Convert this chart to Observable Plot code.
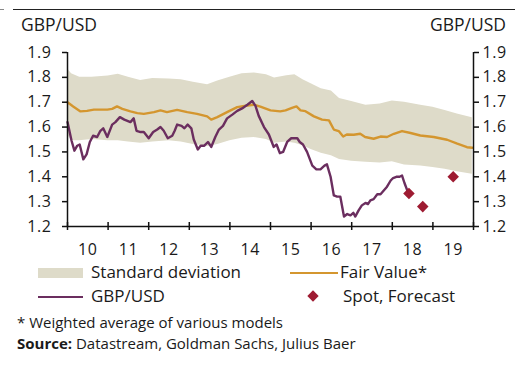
<!DOCTYPE html>
<html>
<head>
<meta charset="utf-8">
<script src="https://cdn.jsdelivr.net/npm/d3@7"></script>
<script src="https://cdn.jsdelivr.net/npm/@observablehq/plot@0.6"></script>
<style>
  body { margin:0; width:530px; height:368px; position:relative; background:#fff; font-family:"Open Sans", sans-serif; color:#1a1a1a; overflow:hidden; }
  .abs { position:absolute; white-space:nowrap; }
</style>
</head>
<body>
<div class="abs" style="left:13px;top:9px;width:502px;height:1px;background:#222"></div>
<div class="abs" style="left:0px;top:9px;width:4px;height:1px;background:#888"></div>
<div class="abs" style="left:21px;top:12px;font-size:17.5px">GBP/USD</div>
<div class="abs" style="right:24px;top:12px;font-size:17.5px">GBP/USD</div>
<div id="chart" class="abs" style="left:0;top:36px"></div>
<div class="abs" style="left:38px;top:268px;width:45px;height:10px;background:#dedbc9"></div>
<div class="abs" style="left:91px;top:260px;font-size:17px">Standard deviation</div>
<div class="abs" style="left:290px;top:272px;width:48px;height:2px;background:#d4962f"></div>
<div class="abs" style="left:340px;top:260px;font-size:17px">Fair Value*</div>
<div class="abs" style="left:38px;top:296px;width:45px;height:2px;background:#6b2e5f"></div>
<div class="abs" style="left:91px;top:284px;font-size:17px">GBP/USD</div>
<div class="abs" style="left:309px;top:292px;width:8px;height:8px;background:#9e1b32;transform:rotate(45deg)"></div>
<div class="abs" style="left:343px;top:284px;font-size:17px">Spot, Forecast</div>
<div class="abs" style="left:17px;top:312px;font-size:15px">* Weighted average of various models</div>
<div class="abs" style="left:17px;top:333px;font-size:15px"><b>Source:</b> Datastream, Goldman Sachs, Julius Baer</div>
<script>
// ---- data ----
const bandYears = [2010.0,2010.1,2010.3,2010.6,2011.0,2011.25,2011.5,2011.8,2012.1,2012.5,2012.8,2013.1,2013.45,2013.7,2014.0,2014.3,2014.6,2014.9,2015.1,2015.4,2015.6,2015.8,2016.0,2016.25,2016.5,2016.7,2017.0,2017.35,2017.7,2018.0,2018.3,2018.7,2019.0,2019.3,2019.6,2019.97];
const bandUpper = [1.835,1.815,1.80,1.80,1.805,1.812,1.80,1.787,1.795,1.793,1.79,1.78,1.77,1.785,1.80,1.815,1.818,1.81,1.797,1.806,1.81,1.79,1.774,1.754,1.745,1.715,1.703,1.688,1.693,1.705,1.70,1.688,1.68,1.667,1.653,1.638];
const bandLower = [1.57,1.545,1.545,1.55,1.545,1.545,1.54,1.535,1.54,1.545,1.54,1.53,1.522,1.53,1.545,1.555,1.558,1.55,1.535,1.54,1.535,1.525,1.51,1.495,1.485,1.47,1.462,1.458,1.455,1.46,1.447,1.443,1.437,1.43,1.42,1.41];

const fairYears = [2010.0,2010.14,2010.32,2010.48,2010.65,2010.98,2011.1,2011.22,2011.35,2011.55,2011.72,2011.88,2012.13,2012.29,2012.45,2012.7,2012.95,2013.19,2013.44,2013.54,2013.69,2013.93,2014.18,2014.43,2014.59,2014.75,2015.0,2015.24,2015.37,2015.53,2015.64,2015.74,2015.86,2016.07,2016.27,2016.44,2016.56,2016.68,2016.79,2016.88,2017.05,2017.21,2017.33,2017.54,2017.71,2017.87,2018.04,2018.24,2018.45,2018.69,2019.02,2019.35,2019.6,2019.84,2019.97];
const fairValue = [1.70,1.683,1.663,1.665,1.67,1.67,1.673,1.683,1.673,1.663,1.656,1.653,1.66,1.667,1.66,1.669,1.66,1.653,1.643,1.63,1.64,1.66,1.68,1.687,1.69,1.682,1.667,1.663,1.667,1.677,1.683,1.667,1.664,1.643,1.63,1.627,1.59,1.584,1.562,1.57,1.569,1.573,1.56,1.553,1.562,1.56,1.573,1.584,1.576,1.566,1.56,1.549,1.533,1.519,1.517];

const gbpYears = [2010.0,2010.1,2010.17,2010.24,2010.3,2010.39,2010.47,2010.55,2010.63,2010.73,2010.81,2010.88,2010.98,2011.1,2011.18,2011.29,2011.4,2011.55,2011.63,2011.7,2011.8,2011.88,2012.0,2012.11,2012.21,2012.29,2012.37,2012.47,2012.58,2012.64,2012.7,2012.81,2012.88,2012.96,2013.05,2013.11,2013.21,2013.28,2013.37,2013.46,2013.54,2013.64,2013.73,2013.83,2013.93,2014.06,2014.18,2014.3,2014.43,2014.55,2014.63,2014.71,2014.84,2014.96,2015.08,2015.15,2015.23,2015.31,2015.41,2015.51,2015.66,2015.72,2015.8,2015.9,2016.03,2016.13,2016.23,2016.33,2016.39,2016.48,2016.56,2016.64,2016.72,2016.81,2016.89,2016.97,2017.04,2017.09,2017.17,2017.25,2017.34,2017.4,2017.46,2017.54,2017.63,2017.71,2017.79,2017.87,2017.96,2018.02,2018.1,2018.18,2018.24,2018.3,2018.38];
const gbpValue = [1.62,1.545,1.505,1.525,1.53,1.47,1.49,1.54,1.565,1.56,1.585,1.595,1.56,1.61,1.62,1.64,1.63,1.62,1.635,1.585,1.58,1.58,1.555,1.58,1.59,1.60,1.585,1.555,1.565,1.585,1.61,1.605,1.595,1.61,1.595,1.55,1.51,1.525,1.525,1.54,1.52,1.56,1.59,1.605,1.635,1.65,1.665,1.675,1.69,1.705,1.685,1.645,1.60,1.57,1.52,1.53,1.495,1.50,1.54,1.555,1.555,1.54,1.53,1.50,1.445,1.43,1.43,1.445,1.45,1.40,1.325,1.32,1.32,1.24,1.25,1.245,1.255,1.24,1.265,1.285,1.295,1.29,1.305,1.31,1.33,1.33,1.345,1.36,1.385,1.395,1.40,1.40,1.405,1.375,1.34];

const spotYears = [2018.41,2018.75,2019.5];
const spotValue = [1.333,1.28,1.40];

const yTicks = [1.2,1.3,1.4,1.5,1.6,1.7,1.8,1.9];
const yearBounds = [2010,2011,2012,2013,2014,2015,2016,2017,2018,2019,2020];
const xLabelYears = [2010.5,2011.5,2012.5,2013.5,2014.5,2015.5,2016.5,2017.5,2018.5,2019.5];
const xLabels = ["10","11","12","13","14","15","16","17","18","19"];

// ---- tables ----
const band = bandYears.map((x,i)=>({x, lo: bandLower[i], hi: bandUpper[i]}));
const fair = fairYears.map((x,i)=>({x, y: fairValue[i]}));
const gbp = gbpYears.map((x,i)=>({x, y: gbpValue[i]}));
const spot = spotYears.map((x,i)=>({x, y: spotValue[i]}));

const axisColor = "#111";
const chart = Plot.plot({
  width: 530, height: 226,
  marginTop: 16, marginBottom: 36, marginLeft: 67, marginRight: 57,
  style: {fontFamily: "'Open Sans', sans-serif", fontSize: "16px", letterSpacing: "0.6px", color: "#1a1a1a", background: "transparent", overflow: "visible"},
  x: {type: "linear", domain: [2010, 2020]},
  y: {domain: [1.2, 1.9]},
  marks: [
    Plot.areaY(band, {x: "x", y1: "lo", y2: "hi", fill: "#dedbc9"}),
    Plot.line(fair, {x: "x", y: "y", stroke: "#d4962f", strokeWidth: 2.4}),
    Plot.line(gbp, {x: "x", y: "y", stroke: "#6b2e5f", strokeWidth: 2.4, strokeLinejoin: "round"}),
    Plot.dot(spot, {x: "x", y: "y", symbol: "diamond2", r: 5.2, fill: "#9e1b32", stroke: "none"}),
    Plot.ruleX([2010, 2020], {stroke: axisColor, strokeWidth: 1.5}),
    Plot.ruleY([1.2], {stroke: axisColor, strokeWidth: 1.5}),
    Plot.ruleX(yearBounds, {y1: 1.2, y2: 1.2, insetTop: -4, insetBottom: -4, stroke: axisColor, strokeWidth: 1.5}),
    Plot.axisY({anchor: "left", ticks: yTicks, tickSize: 5, tickPadding: 11, tickFormat: d3.format(".1f"), label: null, stroke: axisColor, strokeWidth: 1.5}),
    Plot.axisY({anchor: "right", ticks: yTicks, tickSize: 5, tickPadding: 4, tickFormat: d3.format(".1f"), label: null, stroke: axisColor, strokeWidth: 1.5}),
    Plot.axisX({ticks: xLabelYears, tickSize: 0, tickPadding: 17, tickFormat: (d, i) => xLabels[i], label: null})
  ]
});
document.getElementById("chart").appendChild(chart);
</script>
</body>
</html>
